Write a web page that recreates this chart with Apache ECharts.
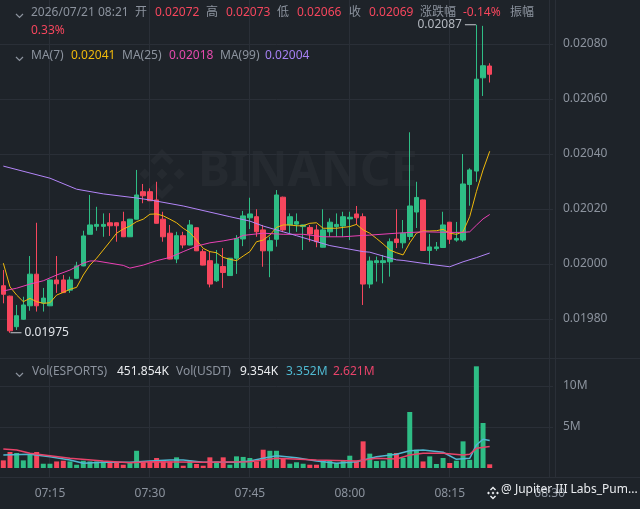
<!DOCTYPE html>
<html><head><meta charset="utf-8">
<script src="https://cdn.jsdelivr.net/npm/echarts@6/dist/echarts.min.js"></script>
<style>html,body{margin:0;padding:0;background:#1e2329;}#c{width:640px;height:509px;}</style>
</head><body><div id="c"></div>
<script>
const times = ['07:08','07:09','07:10','07:11','07:12','07:13','07:14','07:15','07:16','07:17','07:18','07:19',
'07:20','07:21','07:22','07:23','07:24','07:25','07:26','07:27','07:28','07:29',
'07:30','07:31','07:32','07:33','07:34','07:35','07:36','07:37','07:38','07:39',
'07:40','07:41','07:42','07:43','07:44','07:45','07:46','07:47','07:48','07:49',
'07:50','07:51','07:52','07:53','07:54','07:55','07:56','07:57','07:58','07:59',
'08:00','08:01','08:02','08:03','08:04','08:05','08:06','08:07','08:08','08:09',
'08:10','08:11','08:12','08:13','08:14','08:15','08:16','08:17','08:18','08:19',
'08:20','08:21','08:22','08:23','08:24','08:25','08:26','08:27','08:28','08:29','08:30'];
const tickTimes = ['07:15','07:30','07:45','08:00','08:15','08:30'];

const opens = [0.019921,0.019883,0.019772,0.019799,0.019848,0.019963,0.019858,0.019848,0.019942,0.019942,
0.019905,0.019948,0.019993,0.020108,0.020137,0.020137,0.020150,0.020150,0.020154,0.020099,
0.020163,0.020263,0.020263,0.020233,0.020163,0.020112,0.020018,0.020103,0.020069,0.020132,
0.020045,0.020012,0.019939,0.019991,0.019958,0.020021,0.020091,0.020168,0.020172,0.020124,
0.020048,0.020090,0.020243,0.020142,0.020145,0.020136,0.020133,0.020124,0.020061,0.020117,
0.020136,0.020138,0.020164,0.020182,0.020172,0.019927,0.020005,0.020005,0.020008,0.020091,
0.020077,0.020100,0.020189,0.020233,0.020049,0.020056,0.020060,0.020152,0.020087,0.020087,
0.020289,0.020338,0.020677,0.020720];
const closes = [0.019890,0.019757,0.019812,0.019851,0.019963,0.019848,0.019876,0.019942,0.019928,0.019896,
0.019942,0.019993,0.020102,0.020142,0.020144,0.020144,0.020139,0.020139,0.020099,0.020163,
0.020251,0.020248,0.020230,0.020148,0.020099,0.020018,0.020103,0.020069,0.020142,0.020048,
0.019996,0.019927,0.020000,0.019969,0.020021,0.020093,0.020175,0.020182,0.020117,0.020048,
0.020085,0.020251,0.020124,0.020172,0.020154,0.020142,0.020109,0.020081,0.020124,0.020152,
0.020144,0.020172,0.020170,0.020168,0.019927,0.020011,0.020012,0.020012,0.020081,0.020078,
0.020112,0.020211,0.020242,0.020049,0.020062,0.020062,0.020142,0.020090,0.020093,0.020291,
0.020342,0.020672,0.020721,0.020690];
const lows = [0.019857,0.019750,0.019760,0.019797,0.019830,0.019827,0.019827,0.019847,0.019895,0.019895,
0.019895,0.019947,0.019992,0.020107,0.020121,0.020099,0.020102,0.020081,0.020098,0.020098,
0.020162,0.020221,0.020229,0.020147,0.020081,0.020017,0.020003,0.020057,0.020068,0.020047,
0.019995,0.019915,0.019935,0.019913,0.019957,0.019964,0.020065,0.020127,0.020099,0.019990,
0.019952,0.020063,0.020116,0.020112,0.020117,0.020051,0.020081,0.020061,0.020060,0.020099,
0.020099,0.020099,0.020087,0.020142,0.019851,0.019912,0.019936,0.019930,0.019954,0.020058,
0.020057,0.020087,0.020131,0.020048,0.020000,0.020048,0.020059,0.020073,0.020081,0.020081,
0.020212,0.020299,0.020611,0.020660];
const highs = [0.019978,0.019885,0.019851,0.019881,0.020029,0.020150,0.019913,0.019943,0.020029,0.019960,
0.019954,0.020008,0.020121,0.020251,0.020208,0.020184,0.020185,0.020151,0.020190,0.020164,
0.020342,0.020291,0.020275,0.020299,0.020190,0.020142,0.020117,0.020117,0.020160,0.020133,
0.020055,0.020045,0.020051,0.020058,0.020022,0.020105,0.020193,0.020241,0.020199,0.020142,
0.020099,0.020269,0.020245,0.020184,0.020184,0.020143,0.020142,0.020142,0.020199,0.020166,
0.020184,0.020190,0.020190,0.020211,0.020184,0.020027,0.020027,0.020033,0.020093,0.020199,
0.020160,0.020479,0.020299,0.020234,0.020109,0.020080,0.020190,0.020153,0.020153,0.020400,
0.020348,0.020870,0.020866,0.020730];
// volume in millions
const volumes = [0.93,1.95,1.83,0.93,1.62,1.95,0.52,0.52,0.80,0.89,
0.80,0.40,0.89,0.80,0.80,0.80,0.80,0.73,0.40,0.73,
2.10,0.80,0.80,1.22,0.80,0.80,1.30,0.28,0.89,0.49,
0.28,1.30,0.80,1.30,0.40,1.42,1.35,1.22,0.80,2.23,
2.10,2.10,1.22,0.52,0.70,0.52,0.40,0.40,0.89,0.89,
0.60,0.89,1.50,0.89,3.25,1.75,0.85,0.90,1.83,1.83,
1.22,6.83,2.23,0.80,1.42,0.49,1.22,0.61,0.89,3.25,
1.00,12.40,5.49,0.45];
const ma7 = [0.020003,0.019917,0.019887,0.019863,0.019875,0.019863,0.019857,0.019859,0.019887,0.019897,
0.019908,0.019915,0.019960,0.019996,0.020021,0.020051,0.020081,0.020112,0.020127,0.020138,
0.020154,0.020163,0.020181,0.020182,0.020175,0.020163,0.020150,0.020130,0.020114,0.020087,
0.020057,0.020045,0.020041,0.020024,0.020017,0.020012,0.020029,0.020045,0.020081,0.020087,
0.020105,0.020133,0.020142,0.020142,0.020139,0.020139,0.020148,0.020150,0.020130,0.020130,
0.020130,0.020133,0.020136,0.020144,0.020124,0.020112,0.020093,0.020073,0.020051,0.020041,
0.020033,0.020077,0.020112,0.020120,0.020120,0.020121,0.020126,0.020112,0.020108,0.020117,
0.020172,0.020263,0.020342,0.020410];
// [candle index, value] readings
const ma25 = [[0,0.019902],[2,0.019912],[4,0.019927],[6,0.019939],[8,0.019960],[10,0.019978],[12,0.020003],
[13,0.020011],[14,0.020011],[16,0.020003],[18,0.019995],[19,0.019985],[21,0.019996],[23,0.020012],[25,0.020024],
[27,0.020045],[29,0.020065],[31,0.020077],[33,0.020084],[35,0.020093],[36,0.020104],[39,0.020112],[42,0.020108],
[45,0.020108],[48,0.020099],[51,0.020099],[54,0.020104],[55,0.020105],[59,0.020112],[63,0.020117],[67,0.020115],
[69,0.020115],[70,0.020117],[71,0.020141],[72,0.020164],[73,0.020180]];
const ma99 = [[0,0.020356],[7,0.020312],[11,0.020272],[15,0.020255],[20,0.020240],[22,0.020233],[27,0.020211],
[34,0.020172],[37,0.020156],[39,0.020138],[44,0.020103],[49,0.020067],[54,0.020045],[55,0.020043],[59,0.020015],
[60,0.020013],[64,0.019999],[67,0.019990],[69,0.020008],[71,0.020023],[73,0.020040]];
const volMa5 = [[0,1.59],[4,1.67],[7,1.38],[10,0.98],[12,0.57],[15,0.70],[19,0.70],[22,0.85],[25,0.98],[27,0.98],
[30,0.70],[35,0.70],[37,0.85],[39,1.18],[41,1.50],[44,1.26],[47,0.85],[50,0.57],[53,0.77],[56,1.38],[59,1.67],
[61,2.11],[63,2.20],[66,1.92],[68,1.06],[70,1.18],[71,2.81],[72,3.50],[73,3.352]];
const volMa10 = [[0,2.32],[2,2.20],[4,1.79],[7,1.50],[10,1.18],[15,0.85],[19,0.65],[22,0.77],[30,0.70],[37,0.77],
[41,1.18],[47,0.98],[53,0.85],[56,1.18],[59,1.10],[61,1.59],[63,1.79],[66,1.79],[69,1.59],[70,1.67],[71,2.40],[73,2.621]];

const GREEN = '#2ebd85', RED = '#f6465d', GRID = '#2a2f37', AXT = '#8c939e';
const FONT = "'Noto Sans','Noto Sans CJK SC',sans-serif";

const candleData = opens.map((o, i) => [o, closes[i], lows[i], highs[i]]);
const volData = volumes.map((v, i) => ({ value: v, itemStyle: { color: closes[i] >= opens[i] ? GREEN : RED } }));
let hiIdx = 0, loIdx = 0;
highs.forEach((h, i) => { if (h > highs[hiIdx]) hiIdx = i; });
lows.forEach((l, i) => { if (l < lows[loIdx]) loIdx = i; });
const lastClose = closes[closes.length - 1];
const isTick = (i, v) => tickTimes.indexOf(v) >= 0;

function txt(x, y, s, color, size) {
  return { type: 'text', left: x, top: y - 9, z: 10, silent: true,
    style: { text: s, fill: color, font: (size || 12) + 'px ' + FONT } };
}
function chevron(x, y) {
  return { type: 'polyline', z: 10, silent: true, shape: { points: [[x, y - 2], [x + 3.5, y + 1.5], [x + 7, y - 2]] },
    style: { stroke: '#8c939e', lineWidth: 1.2, fill: null } };
}
function logo(cx, cy, s, fill) {
  const P = pts => ({ type: 'polygon', silent: true, z: 0, shape: { points: pts.map(p => [cx + p[0] * s, cy + p[1] * s]) }, style: { fill: fill } });
  const d = (x, y, r) => [[x, y - r], [x + r, y], [x, y + r], [x - r, y]];
  return [
    P(d(0, 0, 0.22)), P(d(-0.69, 0, 0.22)), P(d(0.69, 0, 0.22)),
    P([[0, -1], [0.47, -0.53], [0.31, -0.37], [0, -0.68], [-0.31, -0.37], [-0.47, -0.53]]),
    P([[0, 1], [0.47, 0.53], [0.31, 0.37], [0, 0.68], [-0.31, 0.37], [-0.47, 0.53]])
  ];
}

const gray = '#8c939e';
const graphic = [
  { type: 'line', z: 1, silent: true, shape: { x1: 0, y1: 358.5, x2: 640, y2: 358.5 }, style: { stroke: GRID, lineWidth: 1 } },
  { type: 'line', z: 1, silent: true, shape: { x1: 0, y1: 477.5, x2: 640, y2: 477.5 }, style: { stroke: GRID, lineWidth: 1 } },
  { type: 'line', z: 1, silent: true, shape: { x1: 555.5, y1: 0, x2: 555.5, y2: 477 }, style: { stroke: GRID, lineWidth: 1 } },
  { type: 'text', left: 198, top: 148, z: 0, silent: true, style: { text: 'BINANCE', fill: 'rgba(255,255,255,0.035)', font: 'bold 48px ' + FONT } },
  ...logo(162, 174, 25, 'rgba(255,255,255,0.035)'),
  ...logo(493, 493, 6.5, '#eaecef'),
  { type: 'text', left: 501, top: 484, z: 10, silent: true, style: { text: '@ Jupiter III Labs_Pum...', fill: '#eaecef', font: '12px ' + FONT } },
  chevron(16, 16), chevron(16, 59), chevron(16, 375),
  txt(31, 16, '2026/07/21 08:21', gray), txt(135, 16, '开', gray), txt(155, 16, '0.02072', RED),
  txt(206, 16, '高', gray), txt(226, 16, '0.02073', RED), txt(277, 16, '低', gray), txt(297, 16, '0.02066', RED),
  txt(349, 16, '收', gray), txt(369, 16, '0.02069', RED), txt(420, 16, '涨跌幅', gray), txt(463, 16, '-0.14%', RED),
  txt(510, 16, '振幅', gray), txt(31, 34, '0.33%', RED),
  txt(31, 59, 'MA(7)', gray), txt(71, 59, '0.02041', '#f0b90b'), txt(122, 59, 'MA(25)', gray),
  txt(169, 59, '0.02018', '#e64aae'), txt(220, 59, 'MA(99)', gray), txt(265, 59, '0.02004', '#a580f2'),
  txt(32, 375, 'Vol(ESPORTS)', gray), txt(117, 375, '451.854K', '#eaecef'), txt(176, 375, 'Vol(USDT)', gray),
  txt(240, 375, '9.354K', '#eaecef'), txt(286, 375, '3.352M', '#4fb8d0'), txt(333, 375, '2.621M', '#e8436a')
];

const chart = echarts.init(document.getElementById('c'), null, { renderer: 'canvas' });
chart.setOption({
  backgroundColor: '#1e2329',
  animation: false,
  textStyle: { fontFamily: FONT },
  graphic: graphic,
  grid: [
    { left: -0.333, right: 87, top: 0, bottom: 135 },
    { left: -0.333, right: 87, top: 345, bottom: 41 },
    { left: 3, right: 90.33, top: 0, bottom: 32 }
  ],
  xAxis: [
    { type: 'category', gridIndex: 0, data: times, boundaryGap: true, axisLine: { show: false }, axisTick: { show: false }, axisLabel: { show: false }, splitLine: { show: false } },
    { type: 'category', gridIndex: 1, data: times, boundaryGap: true, axisLine: { show: false }, axisTick: { show: false },
      axisLabel: { show: true, interval: isTick, color: AXT, fontSize: 12, margin: 20, fontFamily: FONT }, splitLine: { show: false } },
    { type: 'category', gridIndex: 2, data: times, boundaryGap: false, axisLine: { show: false }, axisTick: { show: false }, axisLabel: { show: false },
      splitLine: { show: true, interval: isTick, lineStyle: { color: GRID, width: 1 } } }
  ],
  yAxis: [
    { type: 'value', gridIndex: 0, position: 'right', min: 0.0196, max: 0.02096, interval: 0.0002,
      axisLine: { show: false }, axisTick: { show: false },
      axisLabel: { color: AXT, fontSize: 12, margin: 10, showMinLabel: false, showMaxLabel: false, fontFamily: FONT, formatter: v => v.toFixed(5) },
      splitLine: { show: true, showMinLine: false, showMaxLine: false, lineStyle: { color: GRID, width: 1 } } },
    { type: 'value', gridIndex: 1, position: 'right', min: 0, max: 15, interval: 5,
      axisLine: { show: false }, axisTick: { show: false },
      axisLabel: { color: AXT, fontSize: 12, margin: 10, showMinLabel: false, showMaxLabel: false, fontFamily: FONT, formatter: v => v + 'M' },
      splitLine: { show: true, showMinLine: false, showMaxLine: false, lineStyle: { color: GRID, width: 1 } } },
    { type: 'value', gridIndex: 2, min: 0, max: 1, show: false, splitLine: { show: false } }
  ],
  series: [
    { type: 'candlestick', xAxisIndex: 0, yAxisIndex: 0, data: candleData, barWidth: 5, z: 2,
      itemStyle: { color: GREEN, color0: RED, borderColor: GREEN, borderColor0: RED, borderWidth: 1 },
      markPoint: { silent: true, animation: false, data: [
        { coord: [times[hiIdx], highs[hiIdx]], symbol: 'rect', symbolSize: [11, 1], symbolOffset: [-6, 0], itemStyle: { color: '#c7cbd1' },
          label: { show: true, position: 'left', distance: 3, formatter: highs[hiIdx].toFixed(5), color: '#b4b9c0', fontSize: 12, fontFamily: FONT } },
        { coord: [times[loIdx], lows[loIdx]], symbol: 'rect', symbolSize: [11, 1], symbolOffset: [6, 0], itemStyle: { color: '#c7cbd1' },
          label: { show: true, position: 'right', distance: 3, formatter: lows[loIdx].toFixed(5), color: '#e2e5ea', fontSize: 12, fontFamily: FONT } }
      ] },
      markLine: { silent: true, symbol: 'none', animation: false, data: [{ yAxis: lastClose }],
        lineStyle: { opacity: 0 },
        label: { show: true, position: 'end', distance: 2, formatter: lastClose.toFixed(5), backgroundColor: RED, color: '#ffffff',
          borderRadius: 4, padding: [5, 8, 5, 8], fontSize: 12, fontFamily: FONT } } },
    { type: 'line', xAxisIndex: 0, yAxisIndex: 0, data: ma7, symbol: 'none', z: 3, lineStyle: { color: '#f0b90b', width: 1 } },
    { type: 'line', xAxisIndex: 0, yAxisIndex: 0, data: ma25, symbol: 'none', z: 3, lineStyle: { color: '#eb40b5', width: 1 } },
    { type: 'line', xAxisIndex: 0, yAxisIndex: 0, data: ma99, symbol: 'none', z: 3, lineStyle: { color: '#b385f8', width: 1 } },
    { type: 'bar', xAxisIndex: 1, yAxisIndex: 1, data: volData, barWidth: 5, z: 2 },
    { type: 'line', xAxisIndex: 1, yAxisIndex: 1, data: volMa5, symbol: 'none', z: 3, lineStyle: { color: '#4fb8d0', width: 1.5 } },
    { type: 'line', xAxisIndex: 1, yAxisIndex: 1, data: volMa10, symbol: 'none', z: 3, lineStyle: { color: '#e8436a', width: 1.5 } }
  ]
});
</script></body></html>
